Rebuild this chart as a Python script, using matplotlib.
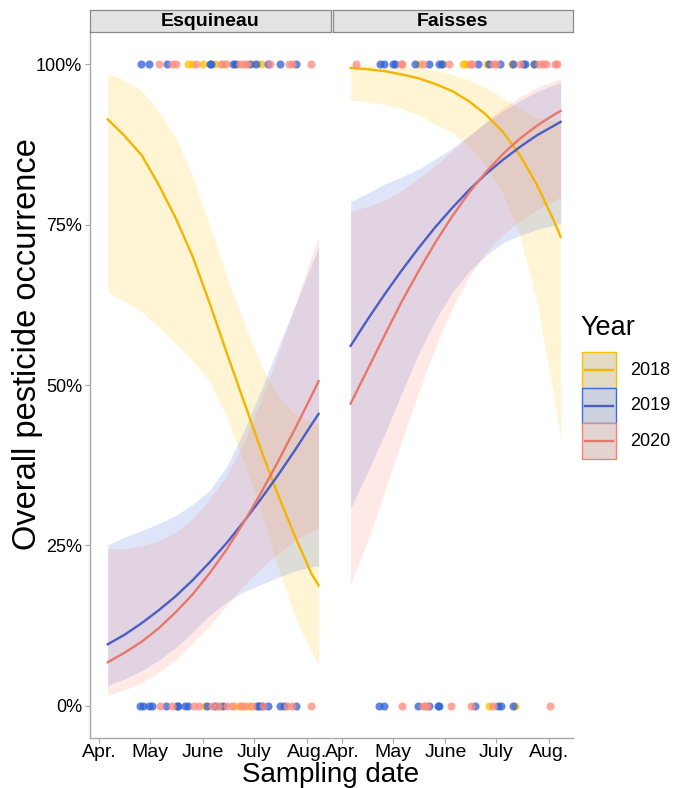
import matplotlib
matplotlib.use("Agg")
import matplotlib.pyplot as plt
from matplotlib.patches import Rectangle
from matplotlib.lines import Line2D

plt.rcParams["font.family"] = ["Liberation Sans", "DejaVu Sans"]

W, H = 675, 788

# ---------------------------------------------------------------------------
# Data
# ---------------------------------------------------------------------------
years = ["2018", "2019", "2020"]
sites = ["Esquineau", "Faisses"]

month_days = [91, 121, 152, 182, 213]
month_labels = ["Apr.", "May", "June", "July", "Aug."]
pct_ticks = [0, 0.25, 0.5, 0.75, 1.0]
pct_labels = ["0%", "25%", "50%", "75%", "100%"]

# day of year where the fitted curves are read
fit_days = [96, 106, 116, 126, 136, 146, 156, 166, 176, 186, 196, 206, 216, 220]

# Esquineau: fitted probability and confidence band
esq_2018_fit = [0.914, 0.888, 0.858, 0.812, 0.760, 0.700, 0.627, 0.550, 0.475, 0.400, 0.330, 0.265, 0.205, 0.188]
esq_2018_lo = [0.645, 0.630, 0.614, 0.590, 0.565, 0.538, 0.506, 0.450, 0.380, 0.304, 0.217, 0.140, 0.083, 0.064]
esq_2018_hi = [0.986, 0.975, 0.958, 0.927, 0.885, 0.825, 0.748, 0.670, 0.598, 0.532, 0.482, 0.455, 0.442, 0.440]
esq_2019_fit = [0.096, 0.111, 0.129, 0.149, 0.171, 0.196, 0.224, 0.254, 0.287, 0.322, 0.359, 0.398, 0.439, 0.455]
esq_2019_lo = [0.032, 0.042, 0.055, 0.071, 0.091, 0.115, 0.141, 0.162, 0.178, 0.189, 0.200, 0.210, 0.217, 0.218]
esq_2019_hi = [0.251, 0.263, 0.273, 0.284, 0.297, 0.314, 0.336, 0.373, 0.428, 0.491, 0.558, 0.622, 0.689, 0.715]
esq_2020_fit = [0.068, 0.083, 0.100, 0.121, 0.146, 0.174, 0.207, 0.244, 0.286, 0.331, 0.380, 0.431, 0.484, 0.506]
esq_2020_lo = [0.017, 0.025, 0.036, 0.052, 0.072, 0.098, 0.125, 0.157, 0.188, 0.214, 0.237, 0.258, 0.272, 0.277]
esq_2020_hi = [0.245, 0.245, 0.250, 0.257, 0.271, 0.292, 0.323, 0.359, 0.410, 0.474, 0.547, 0.623, 0.702, 0.731]

# Faisses: fitted probability and confidence band
fai_2018_fit = [0.994, 0.992, 0.989, 0.984, 0.978, 0.969, 0.958, 0.942, 0.921, 0.894, 0.858, 0.812, 0.756, 0.731]
fai_2018_lo = [0.944, 0.942, 0.937, 0.931, 0.921, 0.906, 0.893, 0.871, 0.840, 0.797, 0.733, 0.629, 0.483, 0.417]
fai_2018_hi = [0.999, 0.999, 0.998, 0.997, 0.994, 0.990, 0.984, 0.975, 0.963, 0.947, 0.930, 0.916, 0.911, 0.912]
fai_2019_fit = [0.561, 0.602, 0.641, 0.678, 0.713, 0.746, 0.776, 0.804, 0.829, 0.851, 0.871, 0.889, 0.904, 0.910]
fai_2019_lo = [0.308, 0.364, 0.423, 0.486, 0.548, 0.601, 0.644, 0.677, 0.702, 0.722, 0.733, 0.742, 0.749, 0.752]
fai_2019_hi = [0.786, 0.799, 0.813, 0.824, 0.836, 0.852, 0.869, 0.889, 0.909, 0.927, 0.943, 0.957, 0.968, 0.971]
fai_2020_fit = [0.471, 0.524, 0.577, 0.629, 0.677, 0.722, 0.763, 0.800, 0.832, 0.860, 0.884, 0.904, 0.921, 0.927]
fai_2020_lo = [0.190, 0.257, 0.334, 0.412, 0.488, 0.558, 0.620, 0.669, 0.707, 0.734, 0.756, 0.773, 0.787, 0.793]
fai_2020_hi = [0.771, 0.778, 0.788, 0.803, 0.822, 0.842, 0.864, 0.887, 0.911, 0.932, 0.949, 0.963, 0.974, 0.977]

# sampling days (day of year) with pesticides detected / not detected
esq_2018_pos = [143.5, 145.5, 152, 159, 164, 172, 182, 186]
esq_2019_pos = [115.5, 120, 131, 156, 157, 169.5, 171, 179.5, 183, 190.5, 197.5, 207]
esq_2020_pos = [126, 134, 136, 148, 162.5, 165.5, 174, 176, 178, 191.5, 202.5, 204.5, 215.5]
esq_2018_neg = [153.5, 162, 171, 175, 179]
esq_2019_neg = [115, 117, 120, 122, 130, 136.5, 137.5, 141.5, 143.5, 154.5, 159, 164,
                184, 185, 186.5, 190.5, 197.5, 199.5, 206.5]
esq_2020_neg = [127, 134, 146.5, 149.5, 157.5, 161, 166, 169, 174, 177, 181, 187.5, 201.5, 204.5, 215.5]

fai_2018_pos = [136.5, 150, 162.5, 164, 176.5, 191, 204]
fai_2019_pos = [113.5, 116, 121, 122, 134, 142.5, 148, 150, 171.5, 177.5, 184, 192, 197.5, 199, 204.5]
fai_2020_pos = [99, 125.5, 126.5, 139, 154, 166.5, 167.5, 180, 182, 196, 207.5, 209.5, 211.5, 216.5, 218]
fai_2018_neg = [178, 193]
fai_2019_neg = [113, 116, 135.5, 142, 147.5, 148, 169.5, 183, 184.5, 192]
fai_2020_neg = [126.5, 138.5, 140, 141, 155.5, 167, 180, 213.5]

# ---------------------------------------------------------------------------
# Styles
# ---------------------------------------------------------------------------
line_col = {"2018": "#F2B600", "2019": "#4A5EC6", "2020": "#E8776B"}
fill_col = {"2018": "#FFC000", "2019": "#4169E1", "2020": "#FA8072"}
dot_col = {"2018": "#FFC000", "2019": "#2F5FD6", "2020": "#FF8A7C"}
axis_grey = "#A8A8A8"


def fig_box(x0, y0, x1, y1):
    """Pixel box (top-left origin) -> figure fraction rect."""
    return [x0 / W, 1 - y1 / H, (x1 - x0) / W, (y1 - y0) / H]


panels = {
    "Esquineau": {
        "box": (90, 32, 331, 738),
        "curves": {"2018": (esq_2018_fit, esq_2018_lo, esq_2018_hi),
                   "2019": (esq_2019_fit, esq_2019_lo, esq_2019_hi),
                   "2020": (esq_2020_fit, esq_2020_lo, esq_2020_hi)},
        "pos": {"2018": esq_2018_pos, "2019": esq_2019_pos, "2020": esq_2020_pos},
        "neg": {"2018": esq_2018_neg, "2019": esq_2019_neg, "2020": esq_2020_neg},
    },
    "Faisses": {
        "box": (333, 32, 573, 738),
        "curves": {"2018": (fai_2018_fit, fai_2018_lo, fai_2018_hi),
                   "2019": (fai_2019_fit, fai_2019_lo, fai_2019_hi),
                   "2020": (fai_2020_fit, fai_2020_lo, fai_2020_hi)},
        "pos": {"2018": fai_2018_pos, "2019": fai_2019_pos, "2020": fai_2020_pos},
        "neg": {"2018": fai_2018_neg, "2019": fai_2019_neg, "2020": fai_2020_neg},
    },
}

fig = plt.figure(figsize=(W / 100, H / 100), dpi=100)

for i, site in enumerate(sites):
    p = panels[site]
    x0, y0, x1, y1 = p["box"]
    ax = fig.add_axes(fig_box(x0, y0, x1, y1))
    ax.set_xlim(85.6, 227.3)
    ax.set_ylim(-0.05, 1.05)

    # ribbons, then fitted lines, then the raw observations
    for yr in years:
        fit, lo, hi = p["curves"][yr]
        ax.fill_between(fit_days, lo, hi, color=fill_col[yr], alpha=0.17, lw=0, zorder=1)
    for yr in years:
        fit, lo, hi = p["curves"][yr]
        ax.plot(fit_days, fit, color=line_col[yr], lw=1.7, zorder=3)
    for yr in years:
        ax.scatter(p["pos"][yr], [1.0] * len(p["pos"][yr]), s=34, color=dot_col[yr],
                   alpha=0.75, lw=0, zorder=4)
        ax.scatter(p["neg"][yr], [0.0] * len(p["neg"][yr]), s=34, color=dot_col[yr],
                   alpha=0.75, lw=0, zorder=4)

    for s in ["top", "right"]:
        ax.spines[s].set_visible(False)
    ax.spines["bottom"].set_color(axis_grey)
    ax.spines["bottom"].set_linewidth(1.0)
    ax.set_xticks(month_days)
    ax.set_xticklabels(month_labels, fontsize=14)
    ax.tick_params(axis="x", colors=axis_grey, labelcolor="black", length=3.5, width=0.8, pad=1)
    if i == 0:
        ax.spines["left"].set_color(axis_grey)
        ax.spines["left"].set_linewidth(1.0)
        ax.set_yticks(pct_ticks)
        ax.set_yticklabels(pct_labels, fontsize=13)
        ax.tick_params(axis="y", colors=axis_grey, labelcolor="black", length=3.5, width=0.8, pad=2)
    else:
        ax.spines["left"].set_visible(False)
        ax.set_yticks([])

    # facet strip
    sax = fig.add_axes(fig_box(x0, 10, x1, 32))
    sax.set_xticks([])
    sax.set_yticks([])
    sax.set_facecolor("#E3E3E3")
    for s in sax.spines.values():
        s.set_color("#8A8A8A")
        s.set_linewidth(0.9)
    sax.text(0.5, 0.47, site, ha="center", va="center", fontsize=14, fontweight="bold",
             transform=sax.transAxes)

fig.text(331 / W, 1 - 775 / H, "Sampling date", ha="center", va="center", fontsize=20)
fig.text(28 / W, 1 - 344 / H, "Overall pesticide occurrence", ha="center", va="center",
         fontsize=23.5, rotation=90)

# legend
lax = fig.add_axes([0, 0, 1, 1], facecolor="none")
lax.set_xlim(0, W)
lax.set_ylim(H, 0)
lax.axis("off")
lax.text(580, 328, "Year", ha="left", va="center", fontsize=19.5)
for k, yr in enumerate(years):
    top = 352 + k * 35.7
    lax.add_patch(Rectangle((582, top), 34, 35.7, facecolor="#E0E0E0",
                            edgecolor=fill_col[yr], lw=1.0, alpha=1.0))
    lax.add_patch(Rectangle((582, top), 34, 35.7, facecolor=fill_col[yr],
                            edgecolor="none", alpha=0.12))
    lax.add_line(Line2D([585, 613], [top + 17.8, top + 17.8], color=line_col[yr], lw=1.7))
    lax.text(630, top + 18, yr, ha="left", va="center", fontsize=13)

fig.savefig("out.png", dpi=100)
